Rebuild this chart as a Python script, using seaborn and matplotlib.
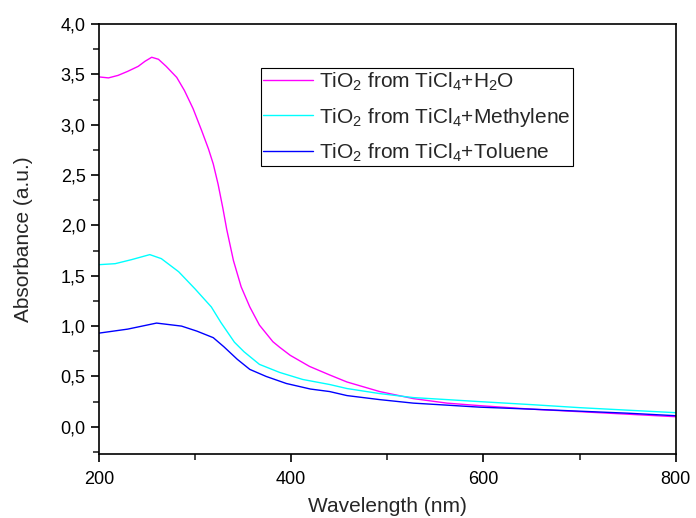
import pandas as pd
import matplotlib
matplotlib.use("Agg")
import matplotlib.pyplot as plt
import seaborn as sns
from matplotlib.ticker import MultipleLocator, FuncFormatter

wl_h2o = [200, 210, 220, 230, 241, 248, 255, 262, 270, 281, 289, 298, 307, 314, 319,
          324, 329, 333, 340, 348, 357, 367, 381, 388, 399, 419, 440, 458, 492, 527,
          562, 596, 650, 700, 750, 800]
abs_h2o = [3.475, 3.465, 3.49, 3.53, 3.58, 3.63, 3.67, 3.65, 3.58, 3.47, 3.34, 3.16, 2.94, 2.76, 2.61,
           2.41, 2.17, 1.96, 1.65, 1.39, 1.19, 1.01, 0.845, 0.79, 0.71, 0.60, 0.515, 0.445, 0.35, 0.28,
           0.235, 0.21, 0.175, 0.15, 0.125, 0.10]

wl_meth = [200, 217, 234, 253, 265, 283, 300, 317, 327, 341, 351, 367, 388, 412,
           440, 458, 492, 527, 562, 596, 650, 700, 750, 800]
abs_meth = [1.61, 1.62, 1.66, 1.71, 1.67, 1.54, 1.37, 1.19, 1.035, 0.84, 0.745, 0.62, 0.54, 0.47,
            0.42, 0.38, 0.33, 0.29, 0.27, 0.25, 0.22, 0.19, 0.165, 0.14]

wl_tol = [200, 230, 260, 286, 302, 319, 330, 344, 357, 374, 395, 420, 440, 458, 492,
          527, 562, 596, 650, 700, 750, 800]
abs_tol = [0.93, 0.97, 1.03, 1.00, 0.95, 0.885, 0.795, 0.67, 0.57, 0.50, 0.43, 0.375, 0.35, 0.31, 0.27,
           0.235, 0.215, 0.195, 0.175, 0.155, 0.135, 0.11]

labels = [r"TiO$_2$ from TiCl$_4$+H$_2$O",
          r"TiO$_2$ from TiCl$_4$+Methylene",
          r"TiO$_2$ from TiCl$_4$+Toluene"]
colors = ["#ff00ff", "#00ffff", "#0000ff"]

sns.set_style("ticks")
plt.rcParams["font.family"] = ["Liberation Sans", "DejaVu Sans"]
plt.rcParams["mathtext.fontset"] = "custom"
plt.rcParams["mathtext.rm"] = "Liberation Sans"
plt.rcParams["mathtext.it"] = "Liberation Sans"

df = pd.concat([
    pd.DataFrame({"wl": wl_h2o, "A": abs_h2o, "Probe": labels[0]}),
    pd.DataFrame({"wl": wl_meth, "A": abs_meth, "Probe": labels[1]}),
    pd.DataFrame({"wl": wl_tol, "A": abs_tol, "Probe": labels[2]}),
])

fig = plt.figure(figsize=(6.96, 5.18), dpi=100)
ax = fig.add_axes([0.142, 0.1236, 0.829, 0.830])
sns.lineplot(data=df, x="wl", y="A", hue="Probe", palette=colors,
             linewidth=1.0, ax=ax, sort=True, estimator=None)

ax.set_xlim(200, 800)
ax.set_ylim(-0.27, 4.0)
ax.xaxis.set_major_locator(MultipleLocator(200))
ax.xaxis.set_minor_locator(MultipleLocator(100))
ax.yaxis.set_major_locator(MultipleLocator(0.5))
ax.yaxis.set_minor_locator(MultipleLocator(0.25))
ax.yaxis.set_major_formatter(FuncFormatter(lambda v, p: f"{v:.1f}".replace(".", ",")))
ax.tick_params(which="major", length=6, width=1.2, labelsize=13, direction="out", colors="black")
ax.tick_params(axis="x", which="major", pad=6)
ax.tick_params(which="minor", length=4, width=1.2, direction="out")
for s in ax.spines.values():
    s.set_linewidth(1.2)
    s.set_color("black")
    s.set_visible(True)

ax.set_xlabel("Wavelength (nm)", fontsize=15, labelpad=7)
ax.set_ylabel("Absorbance (a.u.)", fontsize=15, labelpad=20)

leg = ax.legend(loc="upper left", bbox_to_anchor=(0.281, 0.898), fontsize=15,
                frameon=True, fancybox=False, edgecolor="black", framealpha=1,
                handlelength=2.4, handletextpad=0.25, labelspacing=0.62,
                borderpad=0.12, borderaxespad=0)
leg.get_frame().set_linewidth(0.8)

fig.savefig("out.png", dpi=100)
